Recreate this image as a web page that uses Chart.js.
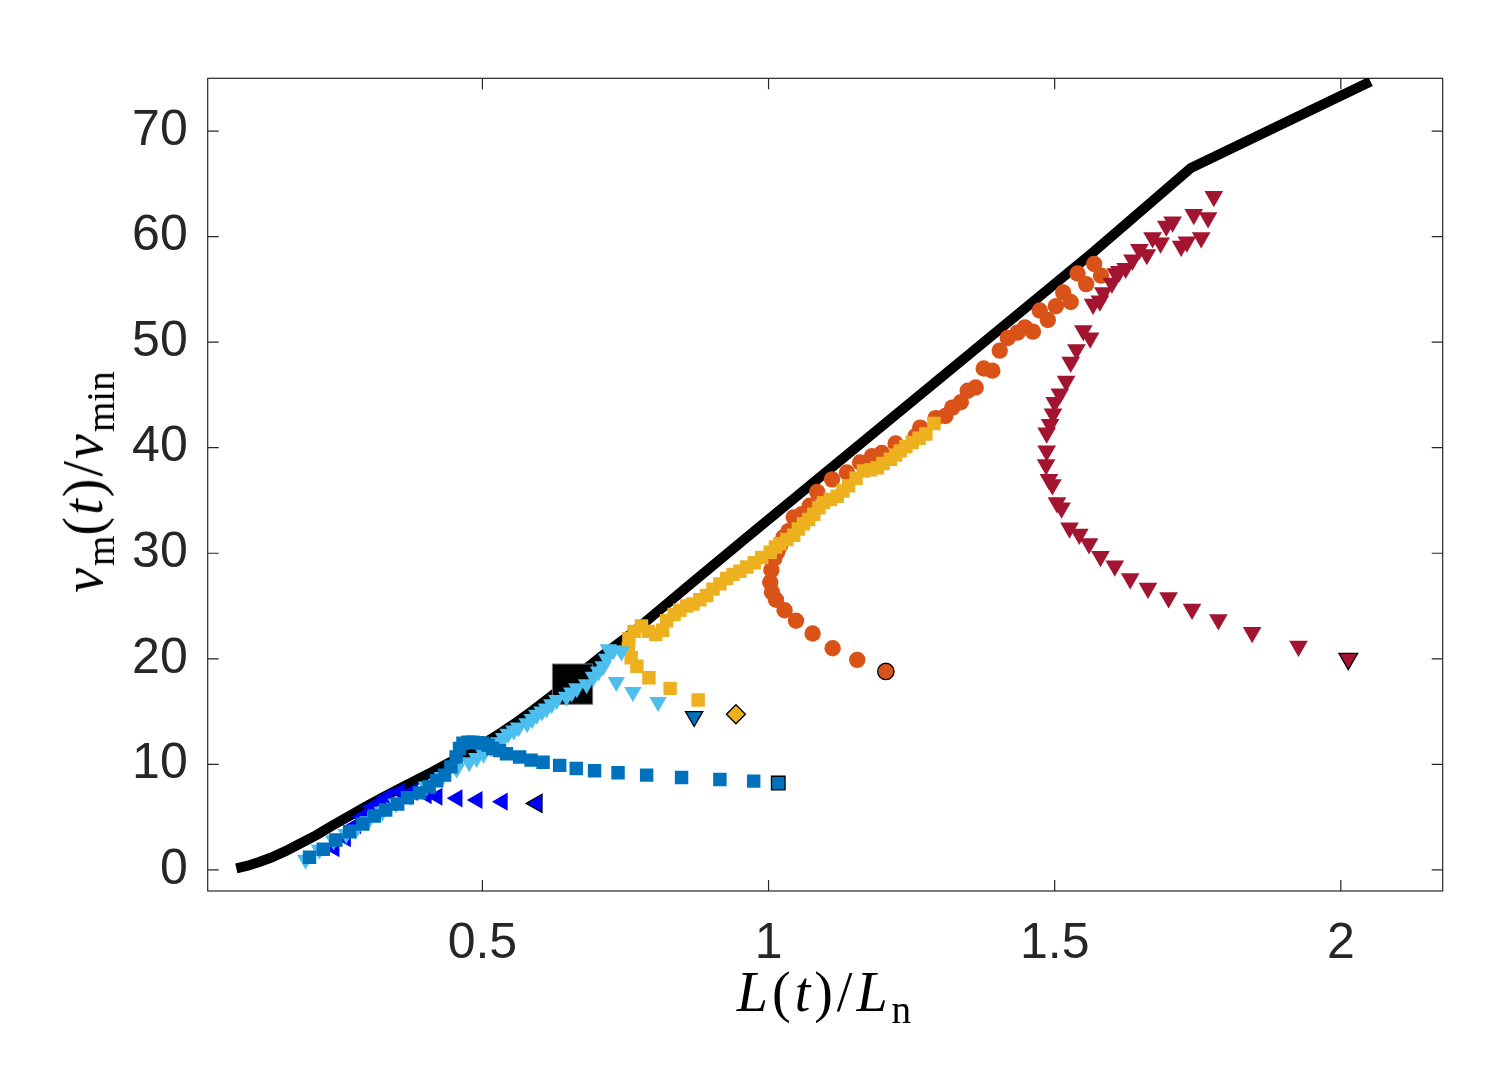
<!DOCTYPE html>
<html>
<head>
<meta charset="utf-8">
<script src="https://cdn.jsdelivr.net/npm/chart.js@4.4.0/dist/chart.umd.min.js"></script>
<style>
  body { margin: 0; background: #fff; }
  #wrap { position: relative; width: 1496px; height: 1083px; }
  .ttl { position: absolute; font-family: "Liberation Serif", "DejaVu Serif", serif; font-size: 56px; line-height: 1; color: #000; white-space: nowrap; }
  .ttl i { font-style: italic; }
  .ttl sub { font-size: 0.7em; line-height: 0; vertical-align: -0.3em; letter-spacing: 0; }
  #xt { left: 824px; top: 964px; transform: translateX(-50%); letter-spacing: 4px; }
  #yt { left: 83px; top: 482px; transform: translate(-50%, -50%) rotate(-90deg); letter-spacing: 2px; }
</style>
</head>
<body>
<div id="wrap">
  <canvas id="grafico"></canvas>
  <div class="ttl" id="xt"><i>L</i>(<i>t</i>)/<i>L</i><sub>n</sub></div>
  <div class="ttl" id="yt"><i>v</i><sub>m</sub>(<i>t</i>)/<i>v</i><sub>min</sub></div>
</div>
<script>
// ticks
const xTicks = [0.5, 1, 1.5, 2];
const yTicks = [0, 10, 20, 30, 40, 50, 60, 70];

// curva preta (limite)
const curveX = [0.07, 0.09, 0.11, 0.13, 0.155, 0.18, 0.21, 0.238, 0.267, 0.296, 0.325, 0.355, 0.384, 0.413, 0.442, 0.472, 0.5, 0.53, 0.56, 0.588, 0.618, 0.647, 0.676, 0.705, 0.734, 0.763, 0.862, 0.962, 1.195, 1.569, 1.738, 2.052];
const curveY = [0.15, 0.4, 0.75, 1.15, 1.75, 2.45, 3.3, 4.2, 5.1, 6.0, 6.85, 7.7, 8.5, 9.3, 10.15, 11.0, 11.9, 12.9, 14.0, 15.1, 16.35, 17.6, 18.85, 20.1, 21.3, 22.5, 27.0, 31.5, 41.9, 58.6, 66.5, 74.7];

// quadrado preto grande
const bigSquareX = [0.6575];
const bigSquareY = [17.6];

// triangulos azuis (esquerda)
const blueTriX = [0.241, 0.261, 0.279, 0.29, 0.308, 0.323, 0.334, 0.355, 0.378, 0.402, 0.421, 0.456, 0.491, 0.535];
const blueTriY = [2.05, 3.0, 4.25, 5.04, 5.98, 6.46, 6.93, 7.4, 7.4, 7.09, 6.93, 6.78, 6.62, 6.46];

// quadrados azuis
const blueSqX = [0.198, 0.222, 0.244, 0.268, 0.291, 0.311, 0.331, 0.352, 0.369, 0.39, 0.407, 0.42, 0.434, 0.445, 0.454, 0.46, 0.466, 0.475, 0.483, 0.492, 0.5, 0.51, 0.518, 0.53, 0.542, 0.565, 0.585, 0.606, 0.635, 0.664, 0.696, 0.737, 0.787, 0.848, 0.915, 0.974];
const blueSqY = [1.2, 1.96, 2.84, 3.62, 4.35, 5.1, 5.67, 6.24, 6.83, 7.3, 7.87, 8.44, 8.98, 9.76, 10.7, 11.5, 12.0, 12.1, 12.1, 12.05, 12.0, 11.8, 11.5, 11.3, 11.0, 10.7, 10.4, 10.2, 9.9, 9.6, 9.4, 9.2, 8.98, 8.76, 8.57, 8.41];

// triangulos azul claro
const cyanTriX = [0.191, 0.215, 0.24, 0.262, 0.279, 0.3, 0.325, 0.349, 0.375, 0.402, 0.43, 0.455, 0.477, 0.49, 0.502, 0.515, 0.528, 0.537, 0.545, 0.555, 0.563, 0.578, 0.587, 0.595, 0.604, 0.612, 0.621, 0.63, 0.647, 0.656, 0.665, 0.682, 0.694, 0.703, 0.711, 0.717, 0.72, 0.729, 0.743, 0.734, 0.763, 0.807];
const cyanTriY = [0.95, 1.9, 2.8, 3.4, 3.8, 4.6, 5.5, 6.3, 7.0, 7.9, 8.8, 9.6, 10.2, 10.6, 11.0, 11.6, 12.1, 12.5, 12.9, 13.2, 13.5, 13.9, 14.3, 14.7, 15.0, 15.3, 15.7, 16.1, 16.4, 16.8, 17.2, 17.6, 18.3, 18.8, 19.3, 20.0, 20.9, 20.8, 20.7, 17.8, 16.85, 15.9];

// quadrados amarelos
const yellowX = [0.877, 0.828, 0.791, 0.77, 0.76, 0.755, 0.756, 0.765, 0.778, 0.79, 0.803, 0.815, 0.822, 0.835, 0.845, 0.857, 0.868, 0.88, 0.892, 0.903, 0.915, 0.927, 0.938, 0.95, 0.962, 0.975, 0.988, 1.003, 1.012, 1.02, 1.032, 1.044, 1.052, 1.061, 1.07, 1.079, 1.088, 1.096, 1.108, 1.12, 1.13, 1.14, 1.153, 1.166, 1.178, 1.19, 1.2, 1.213, 1.222, 1.23, 1.24, 1.251, 1.263, 1.275, 1.289];
const yellowY = [16.1, 17.2, 18.2, 19.3, 20.1, 21.0, 21.9, 22.6, 23.1, 22.6, 22.3, 22.7, 23.6, 24.2, 24.6, 25.0, 25.2, 25.6, 26.0, 26.6, 27.1, 27.6, 28.0, 28.3, 28.7, 29.1, 29.6, 30.1, 30.6, 30.9, 31.3, 31.7, 32.3, 32.8, 33.2, 33.7, 34.3, 34.8, 35.1, 35.4, 35.9, 36.4, 37.1, 37.8, 37.9, 38.1, 38.5, 38.9, 39.3, 39.7, 40.1, 40.5, 40.9, 41.3, 42.3];

// circulos laranja
const orangeX = [1.155, 1.112, 1.077, 1.048, 1.028, 1.013, 1.006, 1.003, 1.005, 1.01, 1.015, 1.02, 1.026, 1.035, 1.044, 1.058, 1.072, 1.085, 1.111, 1.137, 1.16, 1.181, 1.198, 1.222, 1.257, 1.265, 1.292, 1.309, 1.321, 1.336, 1.348, 1.362, 1.376, 1.391, 1.404, 1.418, 1.435, 1.448, 1.462, 1.474, 1.488, 1.502, 1.515, 1.528, 1.54, 1.555, 1.569, 1.581];
const orangeY = [19.9, 21.0, 22.4, 23.6, 24.6, 25.6, 26.3, 27.25, 28.4, 29.5, 30.1, 30.7, 31.5, 32.1, 33.4, 33.7, 34.5, 35.8, 37.0, 37.65, 38.6, 39.2, 39.5, 40.4, 41.1, 41.9, 42.8, 43.0, 43.8, 44.3, 45.4, 45.7, 47.5, 47.3, 49.2, 50.4, 50.9, 51.4, 51.0, 53.0, 52.1, 53.4, 54.7, 53.8, 56.5, 55.5, 57.4, 56.3];

// triangulos vermelho escuro
const redX = [1.778, 1.768, 1.743, 1.756, 1.731, 1.721, 1.706, 1.695, 1.685, 1.671, 1.661, 1.648, 1.636, 1.624, 1.613, 1.607, 1.6, 1.585, 1.579, 1.567, 1.562, 1.55, 1.538, 1.528, 1.52, 1.509, 1.5, 1.497, 1.492, 1.486, 1.486, 1.485, 1.49, 1.496, 1.504, 1.512, 1.526, 1.543, 1.56, 1.58, 1.605, 1.632, 1.663, 1.699, 1.74, 1.786, 1.845, 1.926];
const redY = [63.8, 61.8, 62.1, 59.9, 59.5, 59.1, 61.4, 61.0, 59.4, 59.9, 58.3, 58.8, 57.8, 57.0, 56.7, 56.5, 55.6, 54.7, 53.9, 53.6, 50.4, 51.1, 49.3, 48.1, 46.3, 45.1, 44.3, 43.2, 42.2, 41.4, 39.7, 38.4, 37.0, 36.5, 34.8, 34.3, 32.4, 31.8, 30.9, 29.7, 28.8, 27.6, 26.7, 25.8, 24.7, 23.7, 22.5, 21.2];

// pontos finais (contorno preto)
const endX = [0.595, 1.017, 0.87, 0.943, 1.205, 2.013];
const endY = [6.3, 8.23, 14.53, 14.75, 18.8, 20.0];

const pts = (xs, ys) => xs.map((x, i) => ({ x: x, y: ys[i] }));

// moldura com ticks para dentro nos quatro lados
const moldura = {
  id: 'moldura',
  beforeDatasetsDraw(chart) {
    const ctx = chart.ctx;
    const a = chart.chartArea;
    const sx = chart.scales.x;
    const sy = chart.scales.y;
    const len = 11;
    ctx.save();
    ctx.strokeStyle = '#262626';
    ctx.lineWidth = 1.2;
    ctx.strokeRect(a.left, a.top, a.right - a.left, a.bottom - a.top);
    ctx.beginPath();
    xTicks.forEach((v) => {
      const px = sx.getPixelForValue(v);
      ctx.moveTo(px, a.bottom); ctx.lineTo(px, a.bottom - len);
      ctx.moveTo(px, a.top); ctx.lineTo(px, a.top + len);
    });
    yTicks.forEach((v) => {
      const py = sy.getPixelForValue(v);
      ctx.moveTo(a.left, py); ctx.lineTo(a.left + len, py);
      ctx.moveTo(a.right, py); ctx.lineTo(a.right - len, py);
    });
    ctx.stroke();
    ctx.restore();
  }
};

const tickFont = { family: '"Liberation Sans", Arial, Helvetica, sans-serif', size: 50 };

new Chart(document.querySelector('#grafico').getContext('2d'), {
  type: 'scatter',
  data: {
    datasets: [
      {
        label: 'fim',
        data: pts(endX, endY),
        pointStyle: ['triangle', 'rect', 'triangle', 'rectRot', 'circle', 'triangle'],
        rotation: [270, 0, 180, 0, 0, 180],
        pointRadius: [10.5, 9.6, 10, 9.5, 8.2, 10.8],
        pointBackgroundColor: ['#0000FF', '#0072BD', '#0072BD', '#EDB120', '#D95319', '#A2142F'],
        pointBorderColor: '#000',
        pointBorderWidth: 1.3,
        order: 0
      },
      {
        label: 'quadrados azuis',
        data: pts(blueSqX, blueSqY),
        pointStyle: 'rect',
        pointRadius: 9.5,
        pointBackgroundColor: '#0072BD',
        pointBorderWidth: 0,
        order: 1
      },
      {
        label: 'triangulos azul claro',
        data: pts(cyanTriX, cyanTriY),
        pointStyle: 'triangle',
        rotation: 180,
        pointRadius: 10,
        pointBackgroundColor: '#4DBEEE',
        pointBorderWidth: 0,
        order: 2
      },
      {
        label: 'triangulos azuis',
        data: pts(blueTriX, blueTriY),
        pointStyle: 'triangle',
        rotation: 270,
        pointRadius: 10.5,
        pointBackgroundColor: '#0000FF',
        pointBorderWidth: 0,
        order: 3
      },
      {
        label: 'triangulos vermelhos',
        data: pts(redX, redY),
        pointStyle: 'triangle',
        rotation: 180,
        pointRadius: 10.8,
        pointBackgroundColor: '#A2142F',
        pointBorderWidth: 0,
        order: 4
      },
      {
        label: 'quadrados amarelos',
        data: pts(yellowX, yellowY),
        pointStyle: 'rect',
        pointRadius: 9.5,
        pointBackgroundColor: '#EDB120',
        pointBorderWidth: 0,
        order: 5
      },
      {
        label: 'circulos laranja',
        data: pts(orangeX, orangeY),
        pointStyle: 'circle',
        pointRadius: 8.2,
        pointBackgroundColor: '#D95319',
        pointBorderWidth: 0,
        order: 6
      },
      {
        label: 'quadrado preto',
        data: pts(bigSquareX, bigSquareY),
        pointStyle: 'rect',
        pointRadius: 28.5,
        pointBackgroundColor: '#000',
        pointBorderColor: '#777',
        pointBorderWidth: 1,
        order: 7
      },
      {
        label: 'curva',
        data: pts(curveX, curveY),
        showLine: true,
        borderColor: '#000',
        borderWidth: 10,
        borderJoinStyle: 'miter',
        borderCapStyle: 'butt',
        pointRadius: 0,
        tension: 0,
        order: 8
      }
    ]
  },
  options: {
    responsive: true,
    maintainAspectRatio: false,
    animation: false,
    events: [],
    layout: { padding: { left: 0, top: 78.3, right: 53.3, bottom: 0 } },
    plugins: { legend: { display: false }, tooltip: { enabled: false } },
    scales: {
      x: {
        type: 'linear',
        min: 0.02,
        max: 2.178,
        grid: { display: false },
        border: { display: false },
        afterBuildTicks: (s) => { s.ticks = xTicks.map((v) => ({ value: v })); },
        afterFit: (s) => { s.height = 192; },
        ticks: { font: tickFont, color: '#262626', padding: 15, maxRotation: 0, autoSkip: false, callback: (v) => String(v) }
      },
      y: {
        type: 'linear',
        min: -2,
        max: 75,
        grid: { display: false },
        border: { display: false },
        afterBuildTicks: (s) => { s.ticks = yTicks.map((v) => ({ value: v })); },
        afterFit: (s) => { s.width = 207.7; },
        ticks: { font: tickFont, color: '#262626', padding: 12, autoSkip: false, callback: (v) => String(v) }
      }
    }
  },
  plugins: [moldura]
});
</script>
</body>
</html>
